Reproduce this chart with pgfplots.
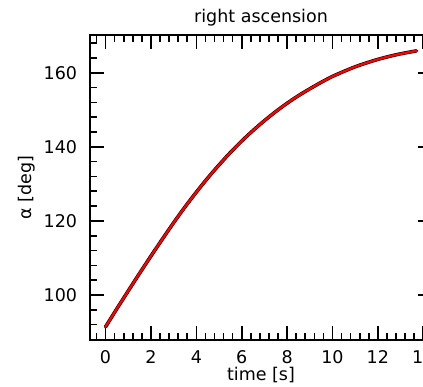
\documentclass[border=0pt]{standalone}
\usepackage{fontspec}
\setmainfont{DejaVu Sans}
\usepackage{pgfplots}
\pgfplotsset{compat=1.18}
\pgfplotstableread{
t a
0 91.4
0.5 96.3
1 101.1
1.5 105.85
2 110.5
2.5 115.05
3 119.5
3.5 123.75
4 127.75
4.5 131.55
5 135.1
5.5 138.45
6 141.55
6.5 144.4
7 147.05
7.5 149.5
8 151.75
8.5 153.8
9 155.65
9.5 157.4
10 159.0
10.5 160.35
11 161.6
11.5 162.65
12 163.6
12.5 164.4
13 165.1
13.7 165.9
}\ra
\begin{document}
\begin{tikzpicture}[font=\fontsize{17.5bp}{21bp}\selectfont]
\useasboundingbox (0,0) rectangle (423bp,387bp);
\begin{axis}[
 at={(90bp,47bp)}, anchor=south west,
 scale only axis, width=342bp, height=305bp,
 xmin=-0.685, xmax=14.385, ymin=87.85, ymax=170.18,
 xtick={0,2,...,14}, ytick={100,120,140,160},
 minor xtick={-0.4,0,...,14.4},
 minor ytick={88,92,...,168},
 tick align=inside, major tick length=14bp, minor tick length=7bp,
 every tick/.append style={black, line width=1.6bp},
 axis line style={line width=1.6bp},
 font=\fontsize{17.5bp}{21bp}\selectfont,
 /pgf/number format/assume math mode=true,
 xticklabel style={inner sep=0pt, anchor=north, yshift=-10.7bp},
 yticklabel style={inner sep=0pt, anchor=east, xshift=-12.7bp},
 title={right ascension},
 title style={at={(axis description cs:0.5,1.023)}, anchor=base, inner sep=0pt},
 xlabel={time [s]},
 xlabel style={at={(axis description cs:0.5,-0.1334)}, anchor=base, inner sep=0pt},
 ylabel={α [deg]},
 ylabel style={at={(axis description cs:-0.1711,0.5)}, anchor=base, inner sep=0pt},
]
\addplot[black, line width=3.5bp, smooth, line cap=round] table[x=t,y=a]{\ra};
\addplot[red, line width=2.3bp, smooth, line cap=round] table[x=t,y=a]{\ra};
\end{axis}
\end{tikzpicture}
\end{document}
